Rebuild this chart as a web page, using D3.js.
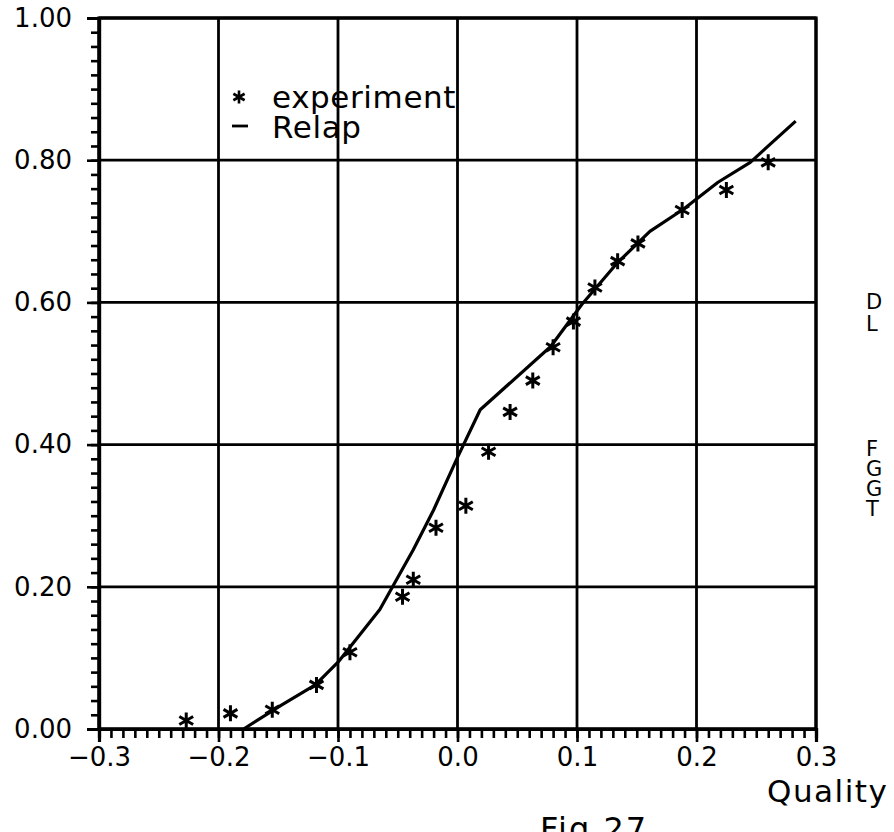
<!DOCTYPE html>
<html>
<head>
<meta charset="utf-8">
<script src="https://cdn.jsdelivr.net/npm/d3@7"></script>
<style>
  html, body { margin: 0; padding: 0; background: #fff; }
  svg { display: block; }
  text { font-family: "DejaVu Sans", sans-serif; fill: #000; }
</style>
</head>
<body>
<svg id="chart" width="894" height="832"></svg>
<script>
// ---- data ----
const expQuality = [-0.227, -0.190, -0.155, -0.118, -0.090, -0.046, -0.037, -0.018, 0.007, 0.026,
                    0.044, 0.063, 0.080, 0.097, 0.115, 0.134, 0.151, 0.188, 0.225, 0.260];
const expValue   = [0.012, 0.022, 0.027, 0.062, 0.108, 0.186, 0.210, 0.283, 0.314, 0.390,
                    0.446, 0.490, 0.537, 0.573, 0.621, 0.658, 0.683, 0.730, 0.758, 0.797];
const relapQuality = [-0.179, -0.147, -0.119, -0.100, -0.065, -0.037, -0.020, 0.000, 0.019,
                      0.078, 0.104, 0.134, 0.161, 0.189, 0.218, 0.245, 0.283];
const relapValue   = [0.000, 0.034, 0.062, 0.094, 0.168, 0.252, 0.308, 0.382, 0.449,
                      0.538, 0.597, 0.656, 0.700, 0.731, 0.769, 0.797, 0.855];
const xTicks = [-0.3, -0.2, -0.1, 0.0, 0.1, 0.2, 0.3];
const xTickLabels = ["\u22120.3", "\u22120.2", "\u22120.1", "0.0", "0.1", "0.2", "0.3"];
const yTicks = [0.0, 0.2, 0.4, 0.6, 0.8, 1.0];
const yTickLabels = ["0.00", "0.20", "0.40", "0.60", "0.80", "1.00"];
const legendLabels = ["experiment", "Relap"];
const xTitle = "Quality";
const figLabel = "Fig.27";
const sideLetters1 = ["D", "L"];
const sideLetters2 = ["F", "G", "G", "T"];

// ---- layout ----
const svg = d3.select("#chart");
const x = d3.scaleLinear().domain([-0.3, 0.3]).range([99, 816]);
const y = d3.scaleLinear().domain([0, 1]).range([729, 18]);

// grid lines
const grid = svg.append("g");
grid.selectAll("line.v").data(xTicks).join("line")
  .attr("x1", d => x(d)).attr("x2", d => x(d))
  .attr("y1", y(0)).attr("y2", y(1))
  .attr("stroke", "#000").attr("stroke-width", 2.8);
grid.selectAll("line.h").data(yTicks).join("line")
  .attr("x1", x(-0.3)).attr("x2", x(0.3))
  .attr("y1", d => y(d)).attr("y2", d => y(d))
  .attr("stroke", "#000").attr("stroke-width", 2.8);

// frame
svg.append("rect")
  .attr("x", x(-0.3)).attr("y", y(1))
  .attr("width", x(0.3) - x(-0.3)).attr("height", y(0) - y(1))
  .attr("fill", "none").attr("stroke", "#000").attr("stroke-width", 3.2);

// x axis (minor ticks every 0.01)
const xAxisMinor = d3.axisBottom(x).tickValues(d3.range(-30, 31).map(i => i / 100))
  .tickSize(9).tickFormat("");
const xAxisMajor = d3.axisBottom(x).tickValues(xTicks).tickSize(13)
  .tickFormat((d, i) => xTickLabels[i]).tickPadding(6);
const gx1 = svg.append("g").attr("transform", `translate(0,${y(0)})`).call(xAxisMinor);
const gx2 = svg.append("g").attr("transform", `translate(0,${y(0)})`).call(xAxisMajor);
[gx1, gx2].forEach(g => {
  g.select(".domain").attr("stroke", "#000").attr("stroke-width", 3.2);
  g.selectAll(".tick line").attr("stroke", "#000").attr("stroke-width", 2.6);
});
gx2.selectAll(".tick text").attr("font-size", 26).attr("font-family", "DejaVu Sans").attr("fill", "#000");

// y axis (minor ticks every 0.02)
const yAxisMinor = d3.axisLeft(y).tickValues(d3.range(0, 51).map(i => i / 50))
  .tickSize(8).tickFormat("");
const yAxisMajor = d3.axisLeft(y).tickValues(yTicks).tickSize(12)
  .tickFormat((d, i) => yTickLabels[i]).tickPadding(15);
const gy1 = svg.append("g").attr("transform", `translate(${x(-0.3)},0)`).call(yAxisMinor);
const gy2 = svg.append("g").attr("transform", `translate(${x(-0.3)},0)`).call(yAxisMajor);
[gy1, gy2].forEach(g => {
  g.select(".domain").attr("stroke", "#000").attr("stroke-width", 3.2);
  g.selectAll(".tick line").attr("stroke", "#000").attr("stroke-width", 2.6);
});
gy2.selectAll(".tick text").attr("font-size", 26).attr("font-family", "DejaVu Sans").attr("fill", "#000");

// Relap line
const relapData = relapQuality.map((q, i) => [q, relapValue[i]]);
svg.append("path")
  .datum(relapData)
  .attr("d", d3.line().x(d => x(d[0])).y(d => y(d[1])))
  .attr("fill", "none").attr("stroke", "#000").attr("stroke-width", 3.2)
  .attr("stroke-linejoin", "round");

// asterisk symbol
function starPath(r) {
  const p = d3.path();
  [90, 30, 150].forEach(a => {
    const rad = a * Math.PI / 180;
    p.moveTo(-r * Math.cos(rad), -r * Math.sin(rad));
    p.lineTo(r * Math.cos(rad), r * Math.sin(rad));
  });
  return p.toString();
}
const expData = expQuality.map((q, i) => [q, expValue[i]]);
svg.append("g").selectAll("path").data(expData).join("path")
  .attr("transform", d => `translate(${x(d[0])},${y(d[1])})`)
  .attr("d", starPath(8))
  .attr("stroke", "#000").attr("stroke-width", 3).attr("fill", "none");

// legend
const leg = svg.append("g");
leg.append("path").attr("transform", "translate(239,97)").attr("d", starPath(6.5))
  .attr("stroke", "#000").attr("stroke-width", 2.6);
leg.append("line").attr("x1", 232).attr("x2", 248).attr("y1", 126).attr("y2", 126)
  .attr("stroke", "#000").attr("stroke-width", 2.8);
leg.append("text").attr("x", 272).attr("y", 108).attr("font-size", 31)
  .attr("letter-spacing", 0.6).text(legendLabels[0]);
leg.append("text").attr("x", 272).attr("y", 138).attr("font-size", 31)
  .attr("letter-spacing", 0.6).text(legendLabels[1]);

// axis title & figure label
svg.append("text").attr("x", 767).attr("y", 802).attr("font-size", 31)
  .attr("letter-spacing", 1.5).text(xTitle);
svg.append("text").attr("x", 540).attr("y", 840).attr("font-size", 32)
  .attr("letter-spacing", 2).text(figLabel);

// clipped side letters at the right edge
svg.append("g").selectAll("text").data(sideLetters1).join("text")
  .attr("x", 866).attr("y", (d, i) => 309 + i * 22).attr("font-size", 21).text(d => d);
svg.append("g").selectAll("text").data(sideLetters2).join("text")
  .attr("x", 866).attr("y", (d, i) => 456 + i * 20).attr("font-size", 21).text(d => d);
</script>
</body>
</html>
